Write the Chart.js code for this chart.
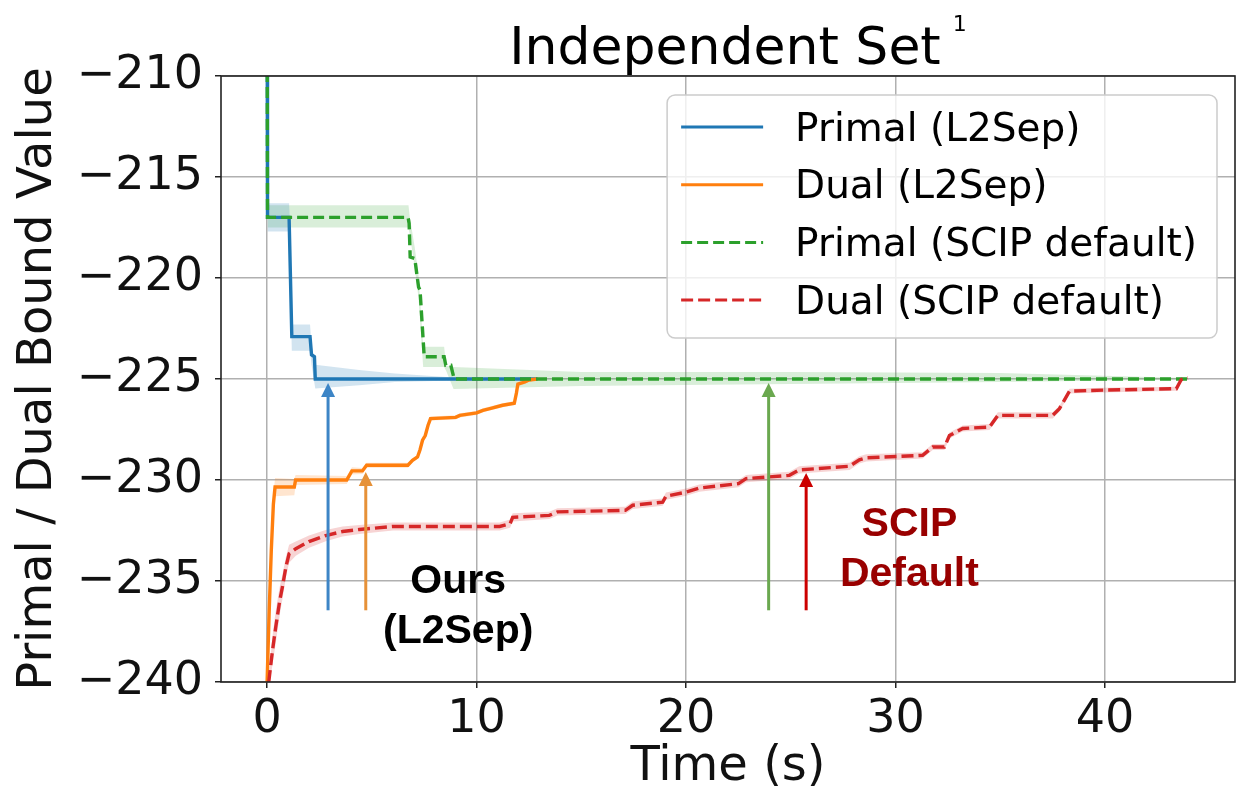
<!DOCTYPE html>
<html>
<head>
<meta charset="utf-8">
<script src="https://cdn.jsdelivr.net/npm/chart.js@4.4.1/dist/chart.umd.min.js"></script>
<style>
  html, body { margin: 0; padding: 0; background: #fff; }
  #wrap { width: 1236px; height: 794px; position: relative; }
</style>
</head>
<body>
<div id="wrap"><canvas id="chart"></canvas></div>
<script>
// ---- data ----
const xTicks = [0, 10, 20, 30, 40];
const yTicks = [-240, -235, -230, -225, -220, -215, -210];

// Primal (L2Sep)
const blueT = [0, 0.02, 1.05, 1.18, 2.05, 2.12, 2.26, 2.3, 12.9];
const blueV = [-205, -217, -217, -222.9, -222.9, -223.8, -223.9, -225, -225];
const blueBandT = [0.02, 1.05, 1.1, 1.18, 2.05, 2.12, 2.3, 4.4, 6.1, 8.9, 12.9];
const blueBandHi = [-216.3, -216.3, -217.5, -222.3, -222.3, -223.3, -224.3, -224.55, -224.73, -224.92, -225.0];
const blueBandLo = [-217.7, -217.7, -220.0, -223.6, -223.6, -224.3, -225.47, -225.31, -225.15, -225.08, -225.0];

// Dual (L2Sep)
const orangeT = [0, 0.1, 0.2, 0.3, 0.38, 1.3, 1.36, 3.8, 4.05, 4.55, 4.75, 6.72, 6.94, 7.18, 7.3, 7.42,
  7.55, 7.68, 7.8, 9.0, 9.2, 10.0, 10.3, 10.68, 11.24, 11.8, 11.9, 11.97, 12.3, 12.5, 12.9];
const orangeV = [-240, -236.5, -233.5, -231.2, -230.35, -230.35, -230.0, -230.0, -229.55, -229.55, -229.27,
  -229.27, -229.03, -228.86, -228.5, -228.03, -227.8, -227.3, -226.96, -226.9, -226.8, -226.68, -226.55,
  -226.45, -226.3, -226.2, -225.7, -225.25, -225.15, -225.05, -225.0];
const orangeSpread = [0, 0.2, 0.35, 0.45, 0.45, 0.4, 0.25, 0.2, 0.18, 0.15, 0.12, 0.12, 0.1, 0.1, 0.1, 0.1,
  0.1, 0.1, 0.1, 0.1, 0.1, 0.1, 0.1, 0.1, 0.1, 0.1, 0.1, 0.1, 0.1, 0.08, 0.05];

// Primal (SCIP default)
const greenT = [0, 0.02, 6.73, 6.78, 6.83, 7.05, 7.23, 7.3, 7.5, 8.45, 8.53, 8.77, 8.93, 43.95];
const greenV = [-205, -217, -217, -217.3, -218.96, -219.04, -220.45, -220.6, -223.9, -223.9, -224.32, -224.32, -225, -225];
const greenBandT = [0.02, 6.75, 6.8, 7.05, 7.23, 7.45, 8.45, 8.55, 8.9, 15, 25, 35, 43.95];
const greenBandHi = [-216.4, -216.4, -216.9, -218.5, -219.9, -223.4, -223.4, -224.35, -224.4, -224.65, -224.65, -224.7, -224.95];
const greenBandLo = [-217.5, -217.5, -217.8, -219.5, -221.0, -224.4, -224.4, -224.6, -225.5, -225.35, -225.25, -225.15, -225.02];

// Dual (SCIP default)
const redT = [0.08, 0.25, 0.41, 0.6, 0.73, 0.9, 1.05, 1.37, 2.0, 2.8, 3.6, 4.4, 6.0, 11.1, 11.6, 11.72,
  13.47, 13.86, 17.1, 17.45, 18.88, 19.04, 20.0, 20.63, 22.5, 22.86, 24.93, 25.4, 27.8, 28.27, 28.6,
  31.29, 31.77, 32.33, 32.57, 33.2, 34.48, 34.88, 37.5, 37.82, 38.3, 39.9, 43.4, 43.63, 43.95];
const redV = [-240, -238.5, -237.3, -236.0, -235.3, -234.3, -233.65, -233.4, -233.05, -232.75, -232.55,
  -232.45, -232.3, -232.3, -232.16, -231.85, -231.75, -231.58, -231.5, -231.25, -231.1, -230.8, -230.6,
  -230.4, -230.18, -229.93, -229.77, -229.5, -229.32, -229.0, -228.9, -228.78, -228.37, -228.37, -227.8,
  -227.45, -227.38, -226.8, -226.8, -226.47, -225.6, -225.55, -225.48, -225.03, -224.95];
const redSpread = [0.3, 0.7, 0.8, 0.7, 0.6, 0.5, 0.45, 0.35, 0.3, 0.28, 0.25, 0.22, 0.2, 0.2, 0.2, 0.2,
  0.18, 0.18, 0.18, 0.18, 0.18, 0.18, 0.18, 0.18, 0.18, 0.18, 0.18, 0.18, 0.18, 0.18, 0.18,
  0.15, 0.15, 0.15, 0.15, 0.15, 0.15, 0.15, 0.15, 0.15, 0.12, 0.12, 0.1, 0.05, 0];

// ---- annotations (arrows + labels), placed in data units ----
const arrowT = [2.91, 4.71, 23.94, 25.73];
const arrowTip = [-225.2, -229.6, -225.2, -229.65];
const arrowBase = -236.45;
const arrowColors = ['#3d85c6', '#e69138', '#6aa84f', '#cc0000'];
const notes = [
  { text: 'Ours', t: 9.12, v: -235.6, color: '#000000' },
  { text: '(L2Sep)', t: 9.12, v: -238.08, color: '#000000' },
  { text: 'SCIP', t: 30.66, v: -232.78, color: '#990000' },
  { text: 'Default', t: 30.66, v: -235.25, color: '#990000' }
];

const pts = (ts, vs) => ts.map((t, i) => ({ x: t, y: vs[i] }));
const line = (label, ts, vs, color, order, dash) => ({
  label, data: pts(ts, vs), borderColor: color, borderWidth: 3.4, borderDash: dash || [],
  pointRadius: 0, tension: 0, fill: false, order, inLegend: true
});
// two datasets: upper edge filled down to the next one
const band = (ts, hi, lo, fillColor) => [
  { data: pts(ts, hi), borderWidth: 0, pointRadius: 0, fill: '+1', backgroundColor: fillColor, order: 10 },
  { data: pts(ts, lo), borderWidth: 0, pointRadius: 0, fill: false, order: 10 }
];

const datasets = [
  line('Primal (L2Sep)', blueT, blueV, '#1f77b4', 4),
  line('Dual (L2Sep)', orangeT, orangeV, '#ff7f0e', 3),
  line('Primal (SCIP default)', greenT, greenV, '#2ca02c', 2, [11, 5]),
  line('Dual (SCIP default)', redT, redV, '#d62728', 1, [12, 5]),
  ...band(blueBandT, blueBandHi, blueBandLo, 'rgba(31,119,180,0.2)'),
  ...band(orangeT, orangeV.map((v, i) => v + orangeSpread[i]), orangeV.map((v, i) => v - orangeSpread[i]), 'rgba(255,127,14,0.2)'),
  ...band(greenBandT, greenBandHi, greenBandLo, 'rgba(44,160,44,0.18)'),
  ...band(redT, redV.map((v, i) => v + redSpread[i]), redV.map((v, i) => v - redSpread[i]), 'rgba(214,39,40,0.2)')
];

const decor = {
  id: 'decor',
  afterDatasetsDraw(chart) {
    const { ctx, chartArea: a, scales: { x, y } } = chart;
    ctx.save();

    // full axes box like matplotlib spines
    ctx.strokeStyle = '#222';
    ctx.lineWidth = 1.6;
    ctx.strokeRect(a.left, a.top, a.right - a.left, a.bottom - a.top);

    // arrows
    arrowT.forEach((t, i) => {
      const px = x.getPixelForValue(t);
      const y0 = y.getPixelForValue(arrowBase);
      const y1 = y.getPixelForValue(arrowTip[i]);
      ctx.strokeStyle = arrowColors[i];
      ctx.fillStyle = arrowColors[i];
      ctx.lineWidth = 3;
      ctx.beginPath();
      ctx.moveTo(px, y0);
      ctx.lineTo(px, y1 + 10);
      ctx.stroke();
      ctx.beginPath();
      ctx.moveTo(px, y1);
      ctx.lineTo(px - 7, y1 + 14);
      ctx.lineTo(px + 7, y1 + 14);
      ctx.closePath();
      ctx.fill();
    });

    // bold annotation text
    ctx.font = 'bold 41px "Liberation Sans", Arial, sans-serif';
    ctx.textAlign = 'center';
    ctx.textBaseline = 'alphabetic';
    notes.forEach(n => {
      ctx.fillStyle = n.color;
      ctx.fillText(n.text, x.getPixelForValue(n.t), y.getPixelForValue(n.v));
    });

    // legend box, top right inside the axes
    const items = chart.data.datasets.filter(d => d.inLegend);
    ctx.font = '39px "DejaVu Sans"';
    const maxW = Math.max(...items.map(d => ctx.measureText(d.label).width));
    const boxW = 128 + maxW + 20;
    const boxH = 243;
    const bx = a.right - 18 - boxW;
    const by = a.top + 19;
    ctx.beginPath();
    ctx.roundRect(bx, by, boxW, boxH, 8);
    ctx.fillStyle = 'rgba(255,255,255,0.8)';
    ctx.fill();
    ctx.strokeStyle = '#cccccc';
    ctx.lineWidth = 1.5;
    ctx.stroke();
    items.forEach((d, i) => {
      const ry = by + 32 + i * 57.7;
      ctx.strokeStyle = d.borderColor;
      ctx.lineWidth = 3;
      ctx.setLineDash(d.borderDash);
      ctx.beginPath();
      ctx.moveTo(bx + 14, ry);
      ctx.lineTo(bx + 96, ry);
      ctx.stroke();
      ctx.setLineDash([]);
      ctx.fillStyle = '#000';
      ctx.textAlign = 'left';
      ctx.textBaseline = 'middle';
      ctx.fillText(d.label, bx + 128, ry + 3.5);
    });

    // title with footnote mark
    ctx.fillStyle = '#000';
    ctx.font = '52px "DejaVu Sans"';
    ctx.textAlign = 'center';
    ctx.textBaseline = 'alphabetic';
    const cx = (a.left + a.right) / 2 - 3;
    ctx.fillText('Independent Set', cx, 64);
    const tw = ctx.measureText('Independent Set').width;
    ctx.font = '22px "DejaVu Sans"';
    ctx.textAlign = 'left';
    ctx.fillText('1', cx + tw / 2 + 12, 31);

    ctx.restore();
  }
};

const tickFont = { family: 'DejaVu Sans', size: 46 };
const titleFont = { family: 'DejaVu Sans', size: 48, lineHeight: 1.2 };

new Chart(document.getElementById('chart'), {
  type: 'line',
  data: { datasets },
  options: {
    responsive: true,
    maintainAspectRatio: false,
    animation: false,
    events: [],
    layout: { padding: { top: 76, right: 1, bottom: 0, left: 0 } },
    plugins: { legend: { display: false }, tooltip: { enabled: false }, title: { display: false } },
    scales: {
      x: {
        type: 'linear',
        min: -2.2,
        max: 46.2,
        afterBuildTicks: axis => { axis.ticks = xTicks.map(v => ({ value: v })); },
        afterFit: axis => { axis.height = 112; },
        ticks: { font: tickFont, color: '#111', padding: 4, maxRotation: 0, autoSkip: false },
        grid: { color: '#b0b0b0', lineWidth: 1.5, tickLength: 6, tickColor: '#222', tickWidth: 1.5 },
        border: { display: false },
        title: { display: true, text: 'Time (s)', font: titleFont, color: '#111', padding: { top: 0, bottom: -2 } }
      },
      y: {
        min: -240,
        max: -210,
        afterBuildTicks: axis => { axis.ticks = yTicks.map(v => ({ value: v })); },
        afterFit: axis => { axis.width = 221; },
        ticks: { font: tickFont, color: '#111', padding: 12, callback: v => String(v).replace('-', '\u2212') },
        grid: { color: '#b0b0b0', lineWidth: 1.5, tickLength: 6, tickColor: '#222', tickWidth: 1.5 },
        border: { display: false },
        title: { display: true, text: 'Primal / Dual Bound Value', font: titleFont, color: '#111', padding: { top: 10, bottom: 0 } }
      }
    }
  },
  plugins: [decor]
});
</script>
</body>
</html>
